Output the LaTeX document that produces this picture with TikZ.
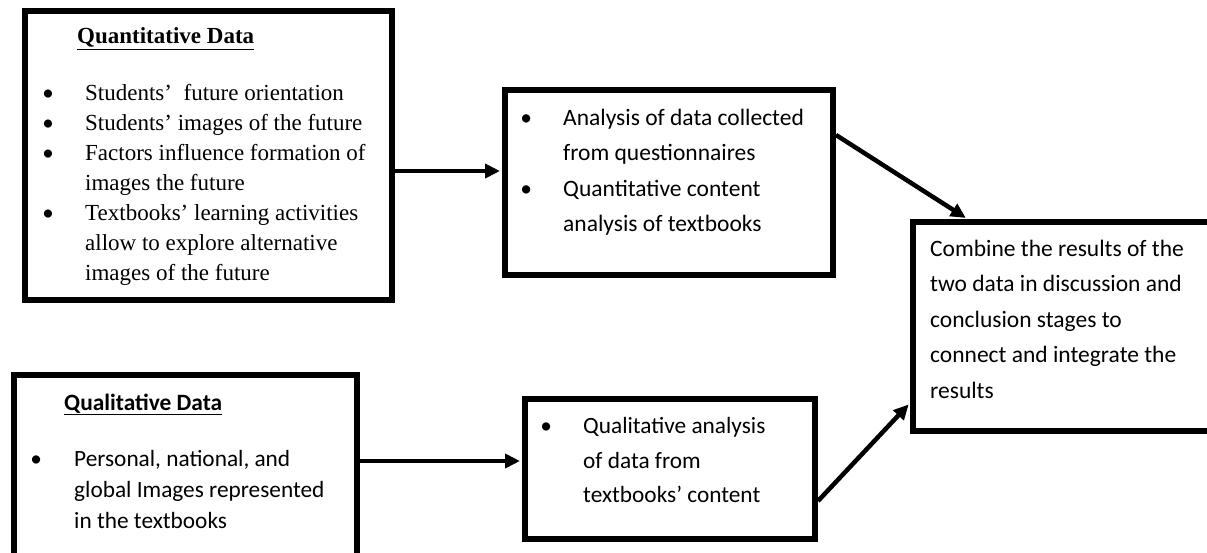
\documentclass[tikz,border=0pt]{standalone}
\usepackage{fontspec}
\setmainfont{Liberation Serif}
\newfontfamily\calibri{Carlito}
\usetikzlibrary{arrows.meta}

\tikzset{
  databox/.style={draw, line width=6pt, inner sep=0pt, anchor=north west},
  flow/.style={line width=4.5pt, -{Triangle[length=15pt,width=14pt]}, shorten >=2pt},
  serifbody/.style={anchor=north west, inner sep=0pt, align=left, font=\fontsize{23}{30}\selectfont},
  sansbody/.style={anchor=north west, inner sep=0pt, align=left, font=\calibri\fontsize{23.5}{35.5}\selectfont},
}
\newcommand{\bul}{\llap{\makebox[74pt]{\calibri\textbullet}}}

\begin{document}
\begin{tikzpicture}[x=1pt, y=-1pt]
\useasboundingbox (0,0) rectangle (1207,552);

% boxes
\node[databox, minimum width=367pt, minimum height=289pt] (quant) at (22,8) {};
\node[databox, minimum width=328pt, minimum height=185pt] (anaquant) at (502,87) {};
\node[databox, minimum width=303pt, minimum height=209pt] (combine) at (910,219) {};
\node[databox, minimum width=343pt, minimum height=186pt] (qual) at (11,372) {};
\node[databox, minimum width=290pt, minimum height=140pt] (anaqual) at (522,396) {};

% texts
\node[serifbody] (quanthead) at (77,27.5) {\textbf{\underline{Quantitative Data}}};
\node[serifbody] (quantlist) at (85,84.3) {\bul Students’~ future orientation\\
\bul Students’ images of the future\\
\bul Factors influence formation of\\
images the future\\
\bul Textbooks’ learning activities\\
allow to explore alternative\\
images of the future};
\node[sansbody] (anaquantlist) at (563,108.5) {\bul Analysis of data collected\\
from questionnaires\\
\bul Quantitative content\\
analysis of textbooks};
\node[sansbody] (combinetext) at (930,239.5) {Combine the results of the\\
two data in discussion and\\
conclusion stages to\\
connect and integrate the\\
results};
\node[sansbody, font=\calibri\bfseries\fontsize{23.4}{30}\selectfont] (qualhead) at (64,393.5) {\underline{Qualitative Data}};
\node[sansbody, font=\calibri\fontsize{23.3}{30.7}\selectfont] (quallist) at (74,450.6) {\llap{\makebox[76pt]{\textbullet}}Personal, national, and\\
global Images represented\\
in the textbooks};
\node[sansbody, font=\calibri\fontsize{23.3}{34.5}\selectfont] (anaquallist) at (583,417.5) {\bul Qualitative analysis\\
of data from\\
textbooks’ content};

% arrows
\draw[flow] ([yshift=-15.5pt]quant.east) coordinate (a1) -- (a1 -| anaquant.west);
\draw[flow] ([yshift=47.5pt]anaquant.east) -- ([xshift=-97pt]combine.north);
\draw[flow] ([yshift=7pt]qual.east) coordinate (a3) -- (a3 -| anaqual.west);
\draw[flow] ([yshift=-32pt]anaqual.east) -- ([yshift=-76.5pt]combine.west);
\end{tikzpicture}
\end{document}
